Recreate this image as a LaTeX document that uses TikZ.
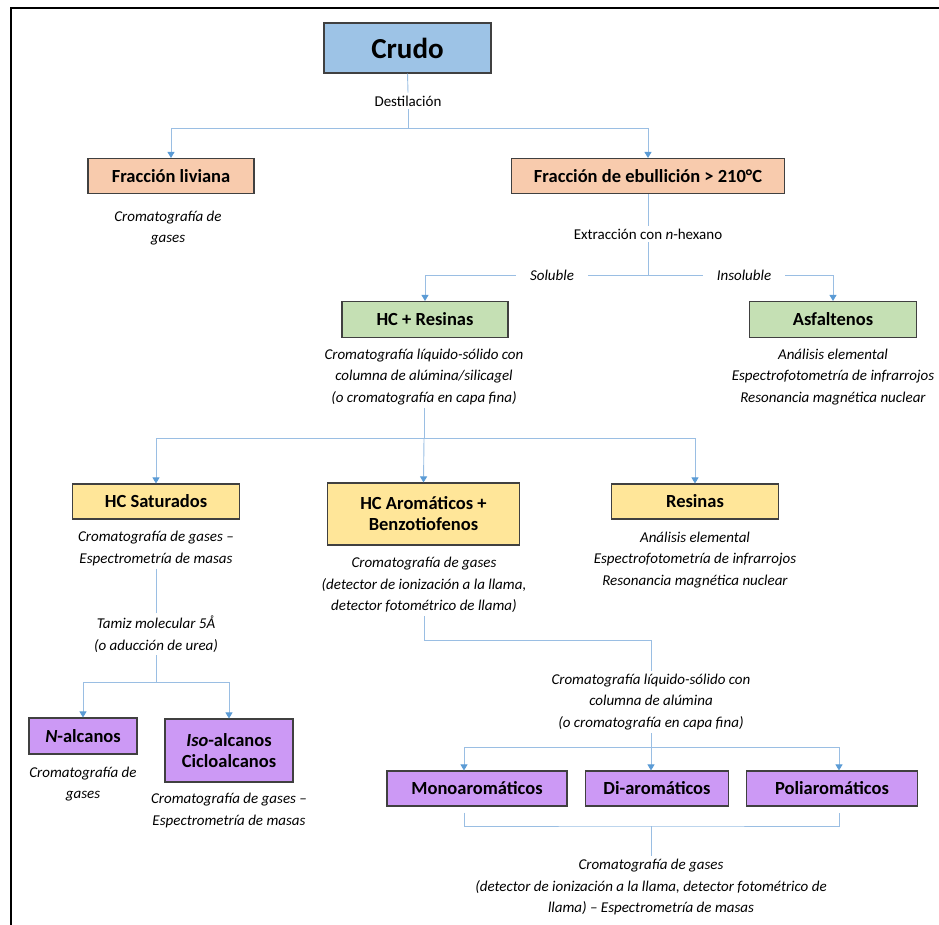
\documentclass[tikz,border=0pt]{standalone}
\usepackage{fontspec}
\setmainfont{Carlito}
\usetikzlibrary{arrows.meta}
\definecolor{crudo}{HTML}{9DC3E6}
\definecolor{frac}{HTML}{F8CBAD}
\definecolor{sepa}{HTML}{C5E0B4}
\definecolor{fam}{HTML}{FFE699}
\definecolor{subf}{HTML}{CC99F5}
\definecolor{wire}{HTML}{9ABEE3}
\definecolor{tip}{HTML}{5B9BD5}

\begin{document}
\begin{tikzpicture}[x=1pt, y=-1pt,
  box/.style={draw=black!75, line width=1.1pt, fill=#1, inner sep=2pt, align=center,
    font=\fontsize{18.5}{21}\selectfont\bfseries},
  lab/.style={font=\fontsize{15}{21.5}\selectfont\itshape, align=center, inner sep=3pt},
  txt/.style={font=\fontsize{15}{21.5}\selectfont, inner sep=3pt},
  link/.style={draw=wire, line width=0.9pt},
  flow/.style={link, -{Triangle[length=6pt, width=7pt, color=tip]}}]

% ---- frame and bounding box
\useasboundingbox (0,0) rectangle (939,925);
\draw[black, line width=1.6pt] (11,925) -- (11,8) -- (939,8);

% ---- crude and distillation
\node[box=crudo, minimum width=167, minimum height=50, font=\fontsize{29}{32}\selectfont\bfseries] (crudo) at (407.5,48) {Crudo};
\node[txt] (dest) at (408,101) {Destilación};
\coordinate (split1) at (408,128);
\node[box=frac, minimum width=166, minimum height=35] (liv) at (171,176) {Fracción liviana};
\node[box=frac, minimum width=273, minimum height=35] (ebu) at (648,176) {Fracción de ebullición > 210°C};
\node[lab] (livTxt) at (168,228) {Cromatografía de\\gases};

% ---- extraction
\node[txt] (ext) at (648,234) {Extracción con \textit{n}-hexano};
\coordinate (split2) at (648,275);
\node[lab, inner xsep=14pt] (sol) at (552,275) {Soluble};
\node[lab, inner xsep=14pt] (insol) at (744,275) {Insoluble};
\node[box=sepa, minimum width=166, minimum height=36] (hcr) at (425,319.5) {HC + Resinas};
\node[box=sepa, minimum width=167, minimum height=36] (asf) at (833,319.5) {Asfaltenos};
\node[lab] (hcrTxt) at (424,377) {Cromatografía líquido-sólido  con\\columna de alúmina/silicagel\\(o cromatografía en capa fina)};
\node[lab] (asfTxt) at (833,377) {Análisis elemental\\Espectrofotometría de infrarrojos\\Resonancia magnética nuclear};

% ---- families
\coordinate (split3) at (424,438);
\node[box=fam, minimum width=167, minimum height=35] (sat) at (156,501.5) {HC Saturados};
\node[box=fam, minimum width=192, minimum height=62] (aro) at (423.5,514) {HC Aromáticos +\\Benzotiofenos};
\node[box=fam, minimum width=167, minimum height=35] (res) at (695,501.5) {Resinas};
\node[lab] (satTxt) at (156,548.5) {Cromatografía de gases –\\Espectrometría de masas};
\node[lab] (aroTxt) at (424,585) {Cromatografía de gases\\(detector de ionización a la llama,\\detector fotométrico de llama)};
\node[lab] (resTxt) at (695,560) {Análisis elemental\\Espectrofotometría de infrarrojos\\Resonancia magnética nuclear};

% ---- saturated branch
\node[lab] (tamiz) at (156,634) {Tamiz molecular 5Å\\(o aducción de urea)};
\coordinate (split4) at (156,682);
\node[box=subf, minimum width=108, minimum height=36] (nalc) at (83,736) {\textit{N}-alcanos};
\node[box=subf, minimum width=128, minimum height=63] (iso) at (229,750.5) {\textit{Iso}-alcanos\\Cicloalcanos};
\node[lab] (nalcTxt) at (83,784) {Cromatografía de\\gases};
\node[lab] (isoTxt) at (229,810.5) {Cromatografía de gases –\\Espectrometría de masas};

% ---- aromatic branch
\coordinate (aroBend) at (651,640);
\node[lab] (aroSep) at (651,702) {Cromatografía líquido-sólido  con\\columna de alúmina\\(o cromatografía en capa fina)};
\coordinate (split5) at (651,747);
\node[box=subf, minimum width=180, minimum height=35] (mono) at (477,788.5) {Monoaromáticos};
\node[box=subf, minimum width=143, minimum height=35] (di) at (657,788.5) {Di-aromáticos};
\node[box=subf, minimum width=171, minimum height=35] (poli) at (832,788.5) {Poliaromáticos};
\coordinate (brace) at (651,826);
\node[lab] (finTxt) at (651,887) {Cromatografía de gases\\(detector de ionización a la llama, detector fotométrico de\\llama) – Espectrometría de masas};

% ---- connectors
\draw[link] (crudo.south) -- (dest.north);
\draw[link] (dest.south) -- (split1);
\draw[flow] (split1) -| (liv.north);
\draw[flow] (split1) -| (ebu.north);
\draw[link] (ebu.south) -- (ext.north);
\draw[link] (ext.south) -- (split2);
\draw[link] (split2) -- (sol.east);
\draw[link] (split2) -- (insol.west);
\draw[flow] (sol.west) -| (hcr.north);
\draw[flow] (insol.east) -| (asf.north);
\draw[link] (hcrTxt.south) -- (split3);
\draw[flow] (split3) -| (sat.north);
\draw[flow] (split3) -- (aro.north);
\draw[flow] (split3) -| (res.north);
\draw[link] (satTxt.south) -- (tamiz.north);
\draw[link] (tamiz.south) -- (split4);
\draw[flow] (split4) -| (nalc.north);
\draw[flow] (split4) -| (iso.north);
\draw[link] (aroTxt.south) |- (aroBend) -- (aroSep.north);
\draw[link] (aroSep.south) -- (split5);
\draw[flow] (split5) -| ([xshift=-13pt]mono.north);
\draw[flow] (split5) -- (split5 |- di.north);
\draw[flow] (split5) -| ([xshift=7pt]poli.north);
\draw[link] ([xshift=-13pt, yshift=-6pt]mono.south) |- (brace) -| ([xshift=7pt, yshift=-6pt]poli.south);
\draw[link] (brace) -- (finTxt.north);
\end{tikzpicture}
\end{document}
